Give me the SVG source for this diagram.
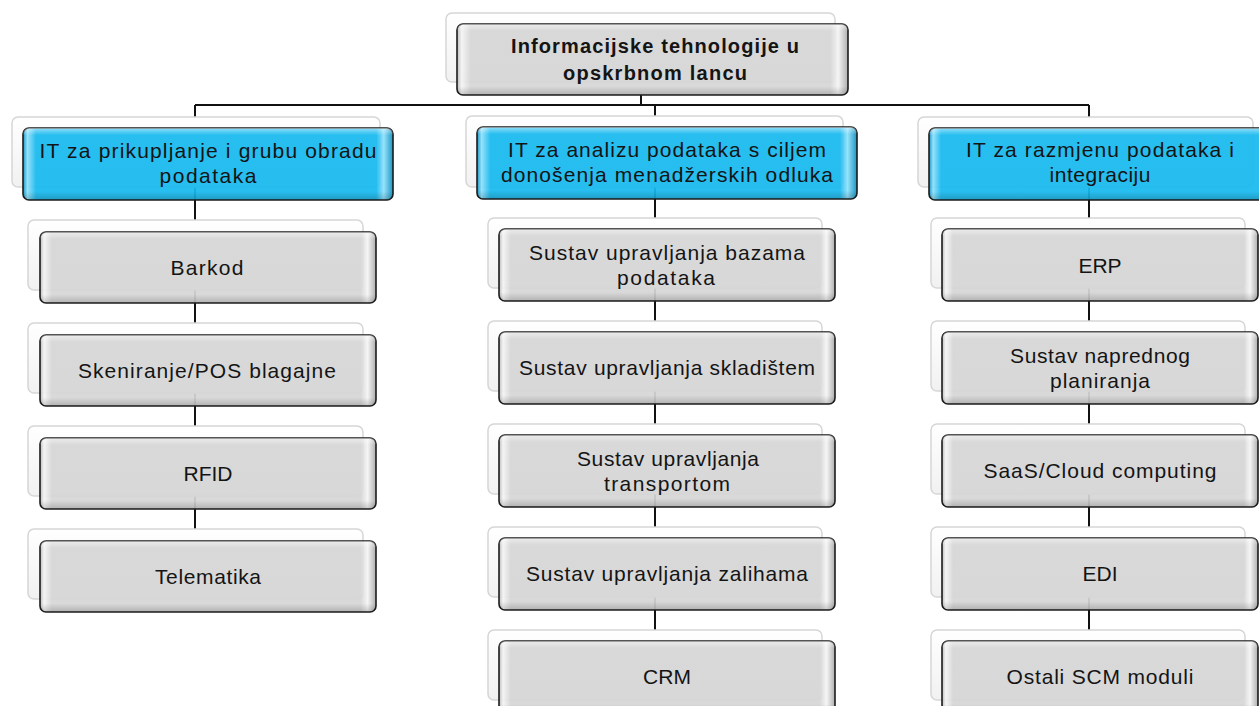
<svg xmlns="http://www.w3.org/2000/svg" width="1259" height="706" viewBox="0 0 1259 706">
<defs>
<linearGradient id="gGray" x1="0" y1="0" x2="1" y2="0">
<stop offset="0" stop-color="#b8b8b8"/>
<stop offset="0.012" stop-color="#f4f4f4"/>
<stop offset="0.035" stop-color="#d6d6d6"/>
<stop offset="0.955" stop-color="#d6d6d6"/>
<stop offset="0.975" stop-color="#f4f4f4"/>
<stop offset="1" stop-color="#a8a8a8"/>
</linearGradient>
<linearGradient id="gBlue" x1="0" y1="0" x2="1" y2="0">
<stop offset="0" stop-color="#0a8fc0"/>
<stop offset="0.012" stop-color="#8fe0fb"/>
<stop offset="0.035" stop-color="#17b9ef"/>
<stop offset="0.955" stop-color="#17b9ef"/>
<stop offset="0.975" stop-color="#8fe0fb"/>
<stop offset="1" stop-color="#0a8fc0"/>
</linearGradient>
<linearGradient id="gV" x1="0" y1="0" x2="0" y2="1">
<stop offset="0" stop-color="#fff" stop-opacity="0.5"/>
<stop offset="0.1" stop-color="#fff" stop-opacity="0"/>
<stop offset="0.88" stop-color="#000" stop-opacity="0"/>
<stop offset="1" stop-color="#000" stop-opacity="0.18"/>
</linearGradient>
<linearGradient id="gBack" x1="0" y1="0" x2="0" y2="1">
<stop offset="0" stop-color="#ffffff"/>
<stop offset="1" stop-color="#f1f1f1"/>
</linearGradient>
</defs>
<style>
.back{fill:url(#gBack);stroke:#d6d6d6;stroke-width:1.5}
.gray{fill:url(#gGray);stroke:#1c1c1c;stroke-width:1.6;fill-opacity:0.93}
.blue{fill:url(#gBlue);stroke:#1c1c1c;stroke-width:1.6;fill-opacity:0.93}
.shade{fill:url(#gV);stroke:none}
.t{font-family:"Liberation Sans",Arial,sans-serif;font-size:21px;fill:#141414;text-anchor:middle}
.tb{font-weight:bold;font-size:20px}
.conn{fill:none;stroke:#111;stroke-width:2}
</style>
<rect x="0" y="0" width="1259" height="706" fill="#fff"/>
<g id="connectors">
<path class="conn" d="M641,95 V105 M195,105 H1089 M195,105 V545 M655,105 V645 M1089,105 V645"/>
</g>
<g id="root">
<rect class="back" x="446" y="13" width="389" height="69" rx="6"/>
<rect class="gray" x="457" y="24" width="391" height="71" rx="6"/>
<rect class="shade" x="457" y="24" width="391" height="71" rx="6"/>
<text class="t tb" x="655" y="53" textLength="288">Informacijske tehnologije u</text>
<text class="t tb" x="655" y="80" textLength="184">opskrbnom lancu</text>
</g>
<g id="cat1">
<rect class="back" x="12" y="117" width="368" height="70" rx="6"/>
<rect class="blue" x="23" y="128" width="370" height="72" rx="6"/>
<rect class="shade" x="23" y="128" width="370" height="72" rx="6"/>
<text class="t" x="208" y="158" textLength="337">IT za prikupljanje  i grubu obradu</text>
<text class="t" x="208" y="183" textLength="97">podataka</text>
</g>
<g id="cat2">
<rect class="back" x="466" y="116" width="377" height="71" rx="6"/>
<rect class="blue" x="477" y="127" width="380" height="72" rx="6"/>
<rect class="shade" x="477" y="127" width="380" height="72" rx="6"/>
<text class="t" x="667" y="157" textLength="318">IT za analizu podataka s ciljem</text>
<text class="t" x="667" y="182" textLength="332">donošenja menadžerskih odluka</text>
</g>
<g id="cat3">
<rect class="back" x="918" y="117" width="335" height="70" rx="6"/>
<rect class="blue" x="929" y="128" width="345" height="72" rx="6"/>
<rect class="shade" x="929" y="128" width="345" height="72" rx="6"/>
<text class="t" x="1100" y="157" textLength="268">IT za razmjenu podataka i</text>
<text class="t" x="1100" y="182" textLength="101">integraciju</text>
</g>
<g id="barkod">
<rect class="back" x="28" y="220" width="335" height="70" rx="6"/>
<rect class="gray" x="40" y="232" width="336" height="71" rx="6"/>
<rect class="shade" x="40" y="232" width="336" height="71" rx="6"/>
<text class="t" x="207" y="275" textLength="73">Barkod</text>
</g>
<g id="skeniranje">
<rect class="back" x="28" y="323" width="335" height="70" rx="6"/>
<rect class="gray" x="40" y="335" width="336" height="71" rx="6"/>
<rect class="shade" x="40" y="335" width="336" height="71" rx="6"/>
<text class="t" x="207" y="378" textLength="258">Skeniranje/POS blagajne</text>
</g>
<g id="rfid">
<rect class="back" x="28" y="426" width="335" height="70" rx="6"/>
<rect class="gray" x="40" y="438" width="336" height="71" rx="6"/>
<rect class="shade" x="40" y="438" width="336" height="71" rx="6"/>
<text class="t" x="208" y="481">RFID</text>
</g>
<g id="telematika">
<rect class="back" x="28" y="529" width="335" height="70" rx="6"/>
<rect class="gray" x="40" y="541" width="336" height="71" rx="6"/>
<rect class="shade" x="40" y="541" width="336" height="71" rx="6"/>
<text class="t" x="208" y="584" textLength="106">Telematika</text>
</g>
<g id="baze">
<rect class="back" x="488" y="218" width="334" height="70" rx="6"/>
<rect class="gray" x="499" y="229" width="336" height="72" rx="6"/>
<rect class="shade" x="499" y="229" width="336" height="72" rx="6"/>
<text class="t" x="667" y="260" textLength="276">Sustav upravljanja bazama</text>
<text class="t" x="666" y="285" textLength="98">podataka</text>
</g>
<g id="skladiste">
<rect class="back" x="488" y="321" width="334" height="70" rx="6"/>
<rect class="gray" x="499" y="332" width="336" height="72" rx="6"/>
<rect class="shade" x="499" y="332" width="336" height="72" rx="6"/>
<text class="t" x="667" y="375" textLength="296">Sustav upravljanja skladištem</text>
</g>
<g id="transport">
<rect class="back" x="488" y="424" width="334" height="70" rx="6"/>
<rect class="gray" x="499" y="435" width="336" height="72" rx="6"/>
<rect class="shade" x="499" y="435" width="336" height="72" rx="6"/>
<text class="t" x="668" y="466" textLength="182">Sustav upravljanja</text>
<text class="t" x="667" y="491" textLength="126">transportom</text>
</g>
<g id="zalihe">
<rect class="back" x="488" y="527" width="334" height="70" rx="6"/>
<rect class="gray" x="499" y="538" width="336" height="72" rx="6"/>
<rect class="shade" x="499" y="538" width="336" height="72" rx="6"/>
<text class="t" x="667" y="581" textLength="282">Sustav upravljanja zalihama</text>
</g>
<g id="crm">
<rect class="back" x="488" y="630" width="334" height="70" rx="6"/>
<rect class="gray" x="499" y="641" width="336" height="72" rx="6"/>
<rect class="shade" x="499" y="641" width="336" height="72" rx="6"/>
<text class="t" x="667" y="684">CRM</text>
</g>
<g id="erp">
<rect class="back" x="931" y="218" width="314" height="70" rx="6"/>
<rect class="gray" x="942" y="229" width="316" height="72" rx="6"/>
<rect class="shade" x="942" y="229" width="316" height="72" rx="6"/>
<text class="t" x="1100" y="273">ERP</text>
</g>
<g id="planiranje">
<rect class="back" x="931" y="321" width="314" height="70" rx="6"/>
<rect class="gray" x="942" y="332" width="316" height="72" rx="6"/>
<rect class="shade" x="942" y="332" width="316" height="72" rx="6"/>
<text class="t" x="1100" y="363" textLength="180">Sustav naprednog</text>
<text class="t" x="1100" y="388" textLength="100">planiranja</text>
</g>
<g id="saas">
<rect class="back" x="931" y="424" width="314" height="70" rx="6"/>
<rect class="gray" x="942" y="435" width="316" height="72" rx="6"/>
<rect class="shade" x="942" y="435" width="316" height="72" rx="6"/>
<text class="t" x="1100" y="478" textLength="233">SaaS/Cloud computing</text>
</g>
<g id="edi">
<rect class="back" x="931" y="527" width="314" height="70" rx="6"/>
<rect class="gray" x="942" y="538" width="316" height="72" rx="6"/>
<rect class="shade" x="942" y="538" width="316" height="72" rx="6"/>
<text class="t" x="1100" y="581">EDI</text>
</g>
<g id="scm">
<rect class="back" x="931" y="630" width="314" height="70" rx="6"/>
<rect class="gray" x="942" y="641" width="316" height="72" rx="6"/>
<rect class="shade" x="942" y="641" width="316" height="72" rx="6"/>
<text class="t" x="1100" y="684" textLength="187">Ostali SCM moduli</text>
</g>
</svg>
